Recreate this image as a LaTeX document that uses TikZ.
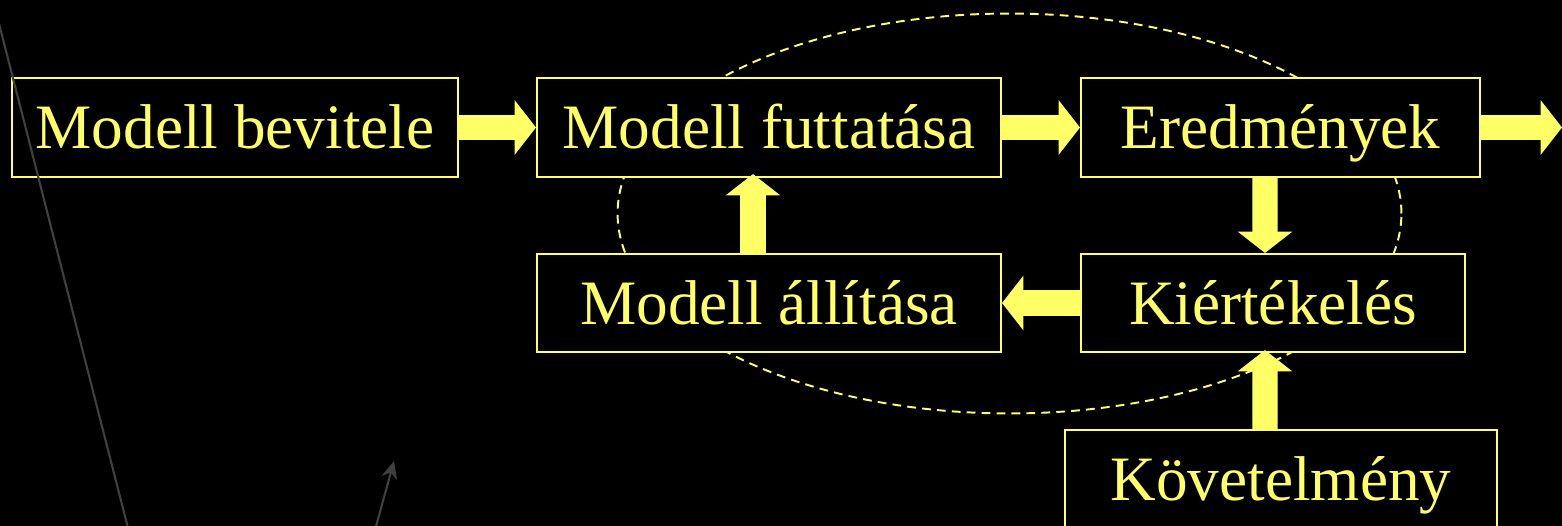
\documentclass[tikz,border=0pt]{standalone}
\usepackage{fontspec}
\setmainfont{Liberation Serif}
\usetikzlibrary{arrows.meta}
\definecolor{ylw}{RGB}{255,255,102}
\definecolor{gry}{RGB}{64,64,64}
\begin{document}
\begin{tikzpicture}[x=0.02cm,y=-0.02cm,
  box/.style={draw=ylw,line width=1.2pt,fill=black,text=ylw,inner sep=0pt,
    minimum height=1.98cm,text height=24pt,text depth=0pt,
    font=\fontsize{36}{40}\selectfont},
  fat/.style={draw=ylw,line width=14.4pt,
    -{Triangle[width=30.6pt,length=12.2pt]},fill=ylw},
  loop/.style={draw=ylw,dash pattern=on 5pt off 3.5pt,line width=1.1pt},
  stray/.style={draw=gry,line width=1.2pt}]
\useasboundingbox (0,0) rectangle (1562,526);
\fill[black] (0,0) rectangle (1562,526);
\clip (0,0) rectangle (1562,526);
% dashed loop
\draw[loop] (1009.5,213.5) ellipse [x radius=7.84cm, y radius=4cm];
% boxes
\node[box,minimum width=8.92cm] (b1) at (235,127.5) {Modell bevitele};
\node[box,minimum width=9.28cm] (b2) at (769,127.5) {Modell futtatása};
\node[box,minimum width=7.98cm] (b3) at (1280.5,127.5) {Eredmények};
\node[box,minimum width=9.28cm,minimum height=1.96cm] (b4) at (769,303) {Modell állítása};
\node[box,minimum width=7.68cm,minimum height=1.96cm] (b5) at (1273,303) {Kiértékelés};
\node[box,minimum width=8.64cm] (b6) at (1281,479.5) {Követelmény};
\coordinate (out) at (1562,127.5);
% fat arrows
\draw[fat] (b1.east) -- (b2.west);
\draw[fat] (b2.east) -- (b3.west);
\draw[fat] (b3.east) -- (out);
\draw[fat] ([xshift=-0.31cm]b3.south) -- ([xshift=-0.16cm]b5.north);
\draw[fat] (b5.west) -- (b4.east);
\draw[fat] ([xshift=-0.32cm]b4.north) -- ([xshift=-0.32cm,yshift=0.08cm]b2.south);
\draw[fat] ([xshift=-0.32cm]b6.north) -- ([xshift=-0.16cm,yshift=0.06cm]b5.south);
% stray grey lines
\coordinate (s1) at (-7,0);
\coordinate (s2) at (129,532);
\coordinate (s3) at (375,530);
\coordinate (s4) at (394,461);
\draw[stray] (s1) -- (s2);
\draw[stray,-{Stealth[length=10pt,width=9pt]}] (s3) -- (s4);
\end{tikzpicture}
\end{document}
